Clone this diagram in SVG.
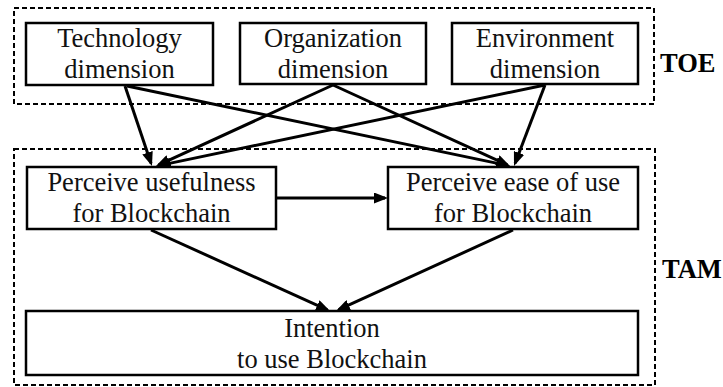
<svg xmlns="http://www.w3.org/2000/svg" width="723" height="387" viewBox="0 0 723 387">
  <style>
    .frame { fill: none; stroke: #000; stroke-width: 2; stroke-dasharray: 5 3; }
    .box { fill: #fff; stroke: #000; stroke-width: 2.5; }
    text { font-family: "Times New Roman", "Liberation Serif", Times, "DejaVu Serif", serif; font-size: 26.5px; }
    .lbl { fill: #111; text-anchor: middle; }
    .tag { font-weight: bold; fill: #000; }
    .edge { fill: none; stroke: #000; stroke-width: 3; marker-end: url(#arrow); }
  </style>
  <defs>
    <marker id="arrow" markerUnits="userSpaceOnUse" markerWidth="14" markerHeight="11" refX="11" refY="5.5" orient="auto">
      <path d="M0,0 L14,5.5 L0,11 z" fill="#000"/>
    </marker>
  </defs>

  <rect width="723" height="387" fill="#fff"/>

  <!-- model frames -->
  <g id="toe-frame">
    <rect class="frame" x="14" y="8" width="640" height="96"/>
    <text class="tag" x="660" y="72">TOE</text>
  </g>
  <g id="tam-frame">
    <rect class="frame" x="14" y="149" width="641" height="236"/>
    <text class="tag" x="662" y="278">TAM</text>
  </g>

  <!-- connectors -->
  <g id="connectors">
    <line class="edge" x1="125" y1="86" x2="151.0" y2="163.2"/>
    <line class="edge" x1="127" y1="86" x2="507.1" y2="165.4"/>
    <line class="edge" x1="333" y1="85" x2="158.7" y2="164.8"/>
    <line class="edge" x1="333" y1="85" x2="507.3" y2="164.8"/>
    <line class="edge" x1="545" y1="85" x2="159.9" y2="165.4"/>
    <line class="edge" x1="545" y1="85" x2="515.1" y2="163.2"/>
    <line class="edge" x1="277" y1="198" x2="385" y2="198"/>
    <line class="edge" x1="151" y1="230" x2="327.3" y2="309.8"/>
    <line class="edge" x1="513" y1="230" x2="338.7" y2="309.7"/>
  </g>

  <!-- nodes -->
  <g id="technology">
    <rect class="box" x="26" y="23" width="187" height="62"/>
    <text class="lbl" x="119.5" y="47">Technology</text>
    <text class="lbl" x="119.5" y="78">dimension</text>
  </g>
  <g id="organization">
    <rect class="box" x="240" y="23" width="186" height="61"/>
    <text class="lbl" x="333" y="47">Organization</text>
    <text class="lbl" x="333" y="78">dimension</text>
  </g>
  <g id="environment">
    <rect class="box" x="452" y="23" width="186" height="61"/>
    <text class="lbl" x="545" y="47">Environment</text>
    <text class="lbl" x="545" y="78">dimension</text>
  </g>
  <g id="usefulness">
    <rect class="box" x="27" y="167" width="249" height="62"/>
    <text class="lbl" x="151.5" y="191">Perceive usefulness</text>
    <text class="lbl" x="151.5" y="222">for Blockchain</text>
  </g>
  <g id="ease-of-use">
    <rect class="box" x="388" y="167" width="250" height="62"/>
    <text class="lbl" x="513" y="191">Perceive ease of use</text>
    <text class="lbl" x="513" y="222">for Blockchain</text>
  </g>
  <g id="intention">
    <rect class="box" x="26" y="311" width="612" height="64"/>
    <text class="lbl" x="332" y="337">Intention</text>
    <text class="lbl" x="332" y="368">to use Blockchain</text>
  </g>
</svg>
